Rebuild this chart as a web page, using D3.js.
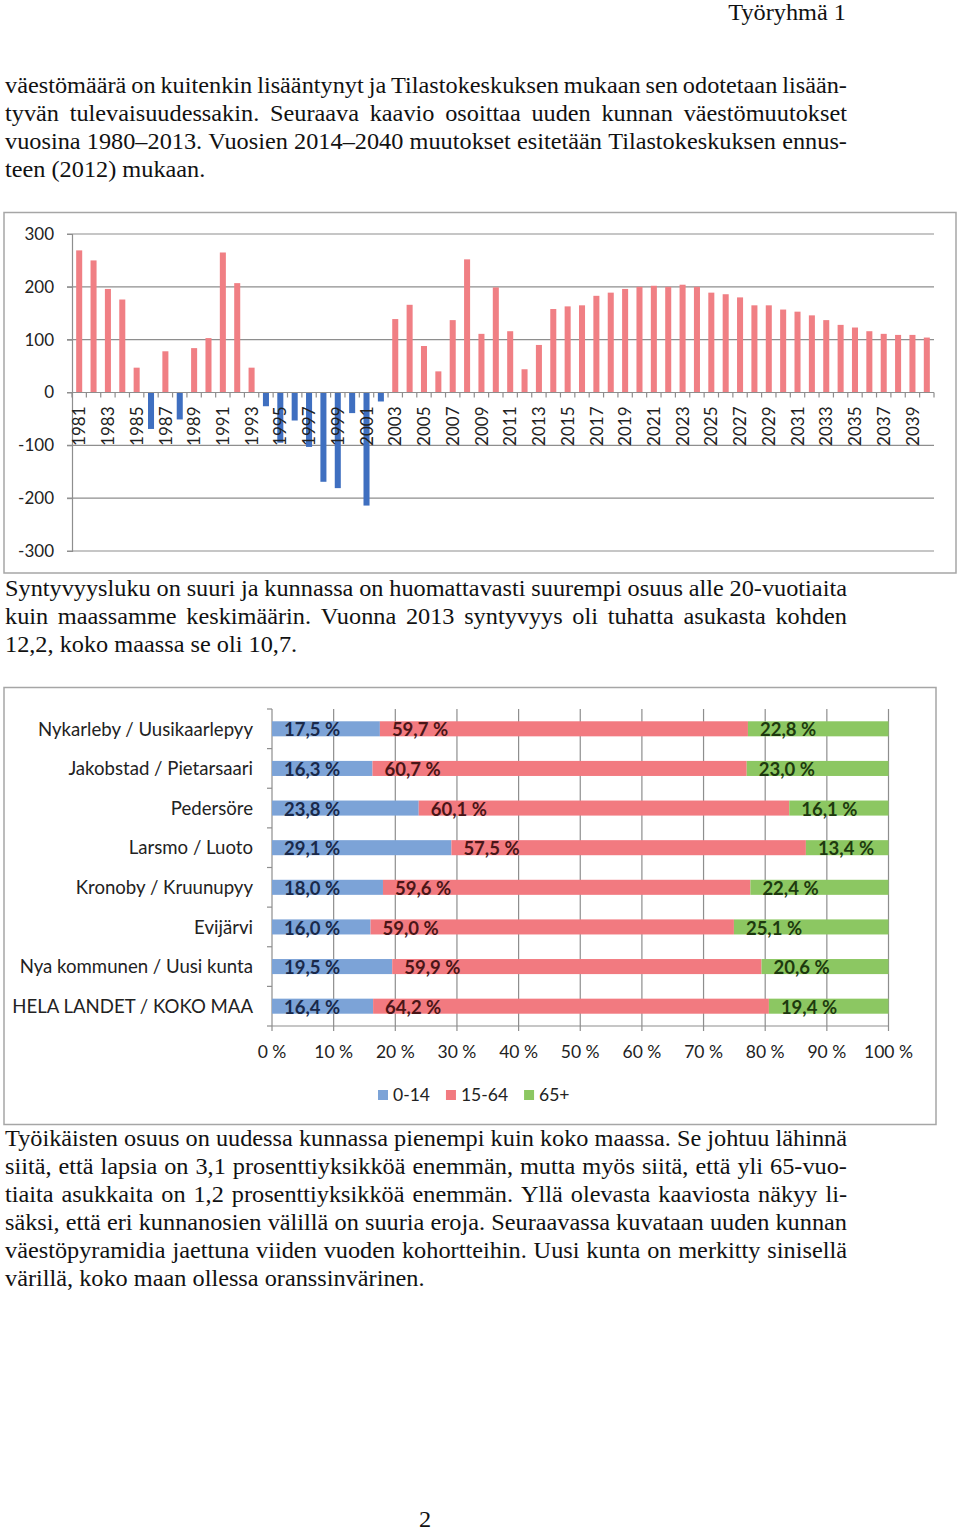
<!DOCTYPE html>
<html><head><meta charset="utf-8">
<script src="https://cdn.jsdelivr.net/npm/d3@7"></script>
<style>html,body{margin:0;padding:0;background:#fff;}svg{display:block;}</style>
</head><body>
<svg id="page" width="960" height="1533"></svg>
<script>
// ---------- DATA ----------
const years = [1981,1982,1983,1984,1985,1986,1987,1988,1989,1990,1991,1992,1993,1994,1995,1996,1997,1998,1999,2000,
  2001,2002,2003,2004,2005,2006,2007,2008,2009,2010,2011,2012,2013,2014,2015,2016,2017,2018,2019,2020,
  2021,2022,2023,2024,2025,2026,2027,2028,2029,2030,2031,2032,2033,2034,2035,2036,2037,2038,2039,2040];
const popChange = [269,250,196,176,47,-69,78,-51,84,103,265,207,47,-26,-95,-53,-103,-169,-181,-39,
  -214,-17,139,166,88,40,137,252,111,199,116,44,90,158,163,165,183,189,196,200,
  202,200,204,200,189,186,180,165,165,157,153,146,137,128,123,116,111,109,109,104];
const yTicks1 = [-300,-200,-100,0,100,200,300];

const areas = ["Nykarleby / Uusikaarlepyy","Jakobstad / Pietarsaari","Pedersöre","Larsmo / Luoto",
  "Kronoby / Kruunupyy","Evijärvi","Nya kommunen / Uusi kunta","HELA LANDET / KOKO MAA"];
const age0_14  = [17.5,16.3,23.8,29.1,18.0,16.0,19.5,16.4];
const age15_64 = [59.7,60.7,60.1,57.5,59.6,59.0,59.9,64.2];
const age65    = [22.8,23.0,16.1,13.4,22.4,25.1,20.6,19.4];
const ageGroups = ["0-14","15-64","65+"];
const xTicks2 = [0,10,20,30,40,50,60,70,80,90,100];

const header = "Työryhmä 1";
const pageNo = "2";
const para1 = ["väestömäärä on kuitenkin lisääntynyt ja Tilastokeskuksen mukaan sen odotetaan lisään-",
  "tyvän tulevaisuudessakin. Seuraava kaavio osoittaa uuden kunnan väestömuutokset",
  "vuosina 1980–2013. Vuosien 2014–2040 muutokset esitetään Tilastokeskuksen ennus-",
  "teen (2012) mukaan."];
const para2 = ["Syntyvyysluku on suuri ja kunnassa on huomattavasti suurempi osuus alle 20-vuotiaita",
  "kuin maassamme keskimäärin. Vuonna 2013 syntyvyys oli tuhatta asukasta kohden",
  "12,2, koko maassa se oli 10,7."];
const para3 = ["Työikäisten osuus on uudessa kunnassa pienempi kuin koko maassa. Se johtuu lähinnä",
  "siitä, että lapsia on 3,1 prosenttiyksikköä enemmän, mutta myös siitä, että yli 65-vuo-",
  "tiaita asukkaita on 1,2 prosenttiyksikköä enemmän. Yllä olevasta kaaviosta näkyy li-",
  "säksi, että eri kunnanosien välillä on suuria eroja. Seuraavassa kuvataan uuden kunnan",
  "väestöpyramidia jaettuna viiden vuoden kohortteihin. Uusi kunta on merkitty sinisellä",
  "värillä, koko maan ollessa oranssinvärinen."];

// ---------- PAGE ----------
const svg = d3.select("#page");
svg.append("rect").attr("width",960).attr("height",1533).attr("fill","#fff");
const serif = "'Liberation Serif','Times New Roman',serif";
const sans = "Lato, 'Open Sans', sans-serif";
const FS = 22.5, SX = 1.08, LEFT = 5, RIGHT = 847;

function serifText(y) {
  return svg.append("text").attr("transform", `scale(${SX},1)`).attr("y", y)
    .attr("font-family", serif).attr("font-size", FS).attr("fill", "#111");
}

function drawParagraph(lines, y0, lh) {
  const L = LEFT / SX, W = (RIGHT - LEFT) / SX;
  lines.forEach((line, i) => {
    const y = y0 + i*lh;
    const last = i === lines.length - 1;
    const t = serifText(y);
    if (last) { t.attr("x", L).text(line); return; }
    const words = line.split(" ");
    const widths = words.map(w => {
      const tmp = svg.append("text").attr("font-family", serif).attr("font-size", FS).text(w);
      const wd = tmp.node().getComputedTextLength(); tmp.remove(); return wd;
    });
    const total = d3.sum(widths);
    const gap = (W - total) / (words.length - 1);
    if (gap < 3.5) {
      t.attr("x", L).attr("textLength", W).attr("lengthAdjust","spacingAndGlyphs").text(line);
    } else {
      let x = L;
      words.forEach((w, k) => { t.append("tspan").attr("x", x).text(w); x += widths[k] + gap; });
    }
  });
}

serifText(20).attr("x", (RIGHT-1)/SX).attr("text-anchor","end").text(header);
drawParagraph(para1, 93, 28);
drawParagraph(para2, 596, 28);
drawParagraph(para3, 1146, 28);
serifText(1527).attr("x", 425/SX).attr("text-anchor","middle").text(pageNo);

// ---------- CHART 1: population change ----------
const grid = "#8e8e8e";
svg.append("rect").attr("x",4).attr("y",212.5).attr("width",952).attr("height",360.5)
  .attr("fill","none").attr("stroke","#a6a6a6").attr("stroke-width",1.5);

const x1 = d3.scaleBand().domain(years).range([72, 934]).paddingInner(0.58).paddingOuter(0.29);
const y1 = d3.scaleLinear().domain([-300, 300]).range([551, 234]);
const c1 = svg.append("g");

c1.selectAll("line.grid").data(yTicks1).join("line")
  .attr("x1", 67).attr("x2", 934).attr("y1", d => y1(d)).attr("y2", d => y1(d))
  .attr("stroke", grid).attr("stroke-width", 1.2);

const yAx = c1.append("g").attr("transform","translate(72,0)")
  .call(d3.axisLeft(y1).tickValues(yTicks1).tickSize(5).tickPadding(13).tickFormat(d => String(d)));
yAx.select(".domain").attr("stroke", grid).attr("stroke-width",1.2);
yAx.selectAll(".tick line").attr("stroke", grid);
yAx.selectAll("text").attr("font-family", sans).attr("font-size", 17).attr("fill","#222");

c1.selectAll("rect.bar").data(years).join("rect")
  .attr("x", d => x1(d)).attr("width", x1.bandwidth())
  .attr("y", (d,i) => y1(Math.max(0, popChange[i])))
  .attr("height", (d,i) => Math.abs(y1(popChange[i]) - y1(0)))
  .attr("fill", (d,i) => popChange[i] >= 0 ? "#f07f84" : "#3f6fc0");

// x axis at zero with boundary ticks
const step = x1.step();
c1.append("line").attr("x1",72).attr("x2",934).attr("y1",y1(0)).attr("y2",y1(0))
  .attr("stroke", grid).attr("stroke-width",1.2);
const bounds = years.map(d => x1(d) - x1.paddingInner()*step/2).concat([934]);
c1.selectAll("line.bt").data(bounds).join("line")
  .attr("x1", d => d).attr("x2", d => d).attr("y1", y1(0)).attr("y2", y1(0)+5)
  .attr("stroke", grid).attr("stroke-width",1.2);
c1.selectAll("text.xl").data(years.filter((d,i) => i % 2 === 0)).join("text")
  .attr("transform", d => `translate(${x1(d)+x1.bandwidth()/2},${y1(0)+14}) rotate(-90)`)
  .attr("text-anchor","end").attr("dy","0.36em")
  .attr("font-family", sans).attr("font-size", 17).attr("fill","#222").text(d => d);

// ---------- CHART 2: age structure ----------
svg.append("rect").attr("x",4).attr("y",687.5).attr("width",932).attr("height",437)
  .attr("fill","none").attr("stroke","#a6a6a6").attr("stroke-width",1.5);
const c2 = svg.append("g");
const rows = areas.map((a,i) => ({area:a, "0-14":age0_14[i], "15-64":age15_64[i], "65+":age65[i]}));
const stacked = d3.stack().keys(ageGroups).offset(d3.stackOffsetExpand)(rows);
const x2 = d3.scaleLinear().domain([0,1]).range([272, 888.5]);
const y2 = d3.scaleBand().domain(areas).range([709, 1026]).paddingInner(0.62).paddingOuter(0.31);
const fills = {"0-14":"#7ca3d7","15-64":"#f27a80","65+":"#8cc762"};
const labelCol = {"0-14":"#19294a","15-64":"#4a1517","65+":"#1d3a0e"};

c2.selectAll("line.vg").data(xTicks2).join("line")
  .attr("x1", d => x2(d/100)).attr("x2", d => x2(d/100)).attr("y1", 709).attr("y2", 1031)
  .attr("stroke", grid).attr("stroke-width",1.2);
c2.append("line").attr("x1",272).attr("x2",888.5).attr("y1",1026).attr("y2",1026)
  .attr("stroke", grid).attr("stroke-width",1.2);
const yb = y2.step();
const rb = areas.map((a,i) => 709 + i*yb).concat([1026]);
c2.selectAll("line.rt").data(rb).join("line")
  .attr("x1",267).attr("x2",272).attr("y1", d => d).attr("y2", d => d)
  .attr("stroke", grid).attr("stroke-width",1.2);

stacked.forEach(s => {
  c2.selectAll(null).data(s).join("rect")
    .attr("x", d => x2(d[0])).attr("width", d => x2(d[1]) - x2(d[0]))
    .attr("y", d => y2(d.data.area)).attr("height", y2.bandwidth())
    .attr("fill", fills[s.key]);
  c2.selectAll(null).data(s).join("text")
    .attr("x", d => x2(d[0]) + 12).attr("y", d => y2(d.data.area) + y2.bandwidth()/2 + 1)
    .attr("dy","0.36em").attr("font-family", sans).attr("font-weight","bold").attr("font-size",18.5)
    .attr("fill", labelCol[s.key])
    .text(d => d3.format(".1f")(d.data[s.key]).replace(".", ",") + " %");
});

c2.selectAll("text.cat").data(areas).join("text")
  .attr("x", 253).attr("y", d => y2(d) + y2.bandwidth()/2).attr("dy","0.36em")
  .attr("text-anchor","end").attr("font-family", sans).attr("font-size",18.6).attr("fill","#222").text(d => d);
c2.selectAll("text.xt").data(xTicks2).join("text")
  .attr("x", d => x2(d/100)).attr("y", 1052).attr("dy","0.36em").attr("text-anchor","middle")
  .attr("font-family", sans).attr("font-size",17.5).attr("fill","#222").text(d => d + " %");

// legend
let lx = 378;
ageGroups.forEach(k => {
  c2.append("rect").attr("x", lx).attr("y", 1090).attr("width",10).attr("height",10).attr("fill", fills[k]);
  const t = c2.append("text").attr("x", lx+15).attr("y", 1095).attr("dy","0.36em")
    .attr("font-family", sans).attr("font-size",17.5).attr("fill","#222").text(k);
  lx += 15 + t.node().getComputedTextLength() + 16;
});
</script>
</body></html>
